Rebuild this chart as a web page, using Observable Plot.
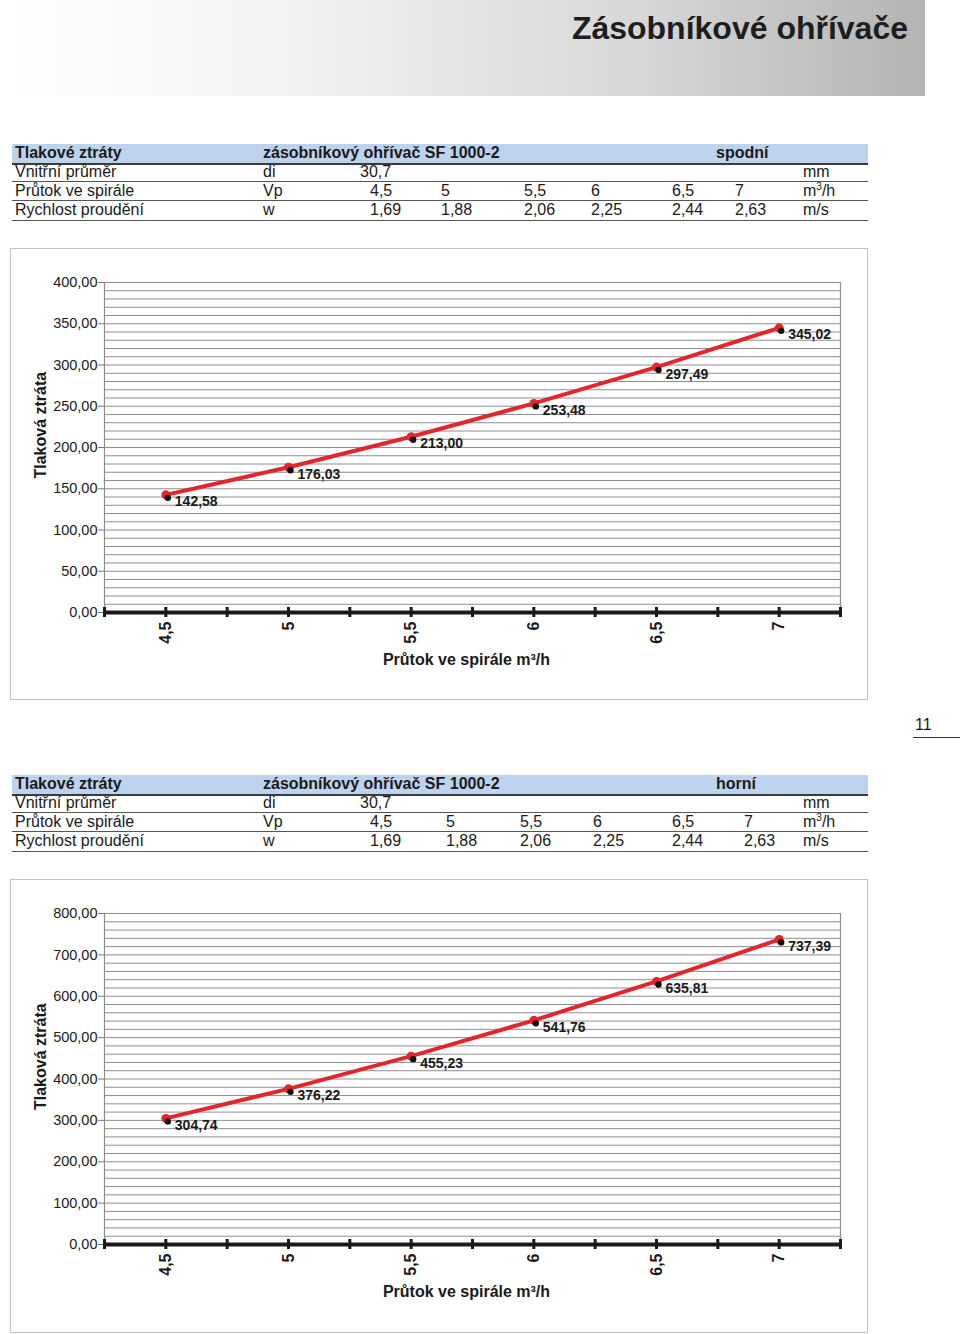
<!DOCTYPE html>
<html><head><meta charset="utf-8">
<script src="https://cdn.jsdelivr.net/npm/d3@7"></script>
<script src="https://cdn.jsdelivr.net/npm/@observablehq/plot@0.6"></script>
<style>
body{margin:0;width:960px;height:1334px;position:relative;background:#fff;font-family:"Liberation Sans",Arial,Helvetica,sans-serif;color:#1a1a1a;overflow:hidden}
.hdr{position:absolute;left:0;top:0;width:925px;height:96px;background:linear-gradient(to right,#ffffff 0%,#f3f3f3 30%,#d6d6d6 70%,#b3b3b3 100%)}
.title{position:absolute;right:52px;top:12px;font-size:32px;line-height:32px;font-weight:bold;color:#1e1e1e;white-space:nowrap}
.t{position:absolute;font-size:16px;line-height:16px;white-space:nowrap;color:#1a1a1a}
.b{font-weight:bold}
.hbg{position:absolute;left:12px;width:856px;height:19px;background:#bdd2ec}
.ln{position:absolute;left:12px;width:856px;background:#3a3a3a}
.box{position:absolute;left:10px;width:856px;border:1px solid #c2c2c2;pointer-events:none}
.plot{position:absolute;left:10px}
sup{font-size:10px;line-height:0;vertical-align:6px}
</style>
</head><body>
<div class="hdr"></div>
<div class="title">Zásobníkové ohřívače</div>
<div id="root"></div>
<script>
// ---- table data ----
const rowLabels = ["Tlakové ztráty", "Vnitřní průměr", "Průtok ve spirále", "Rychlost proudění"];
const productName = "zásobníkový ohřívač SF 1000-2";
const coilPositions = ["spodní", "horní"];
const symbols = ["di", "Vp", "w"];
const innerDiameter = "30,7";
const flowLabels = ["4,5", "5", "5,5", "6", "6,5", "7"];
const velocityLabels = ["1,69", "1,88", "2,06", "2,25", "2,44", "2,63"];
const units = ["mm", "m<sup>3</sup>/h", "m/s"];

// ---- chart data ----
const flow = [4.5, 5, 5.5, 6, 6.5, 7];
const lossLower = [142.58, 176.03, 213.00, 253.48, 297.49, 345.02];   // spodní
const lossUpper = [304.74, 376.22, 455.23, 541.76, 635.81, 737.39];   // horní
const yTicksLower = [0, 50, 100, 150, 200, 250, 300, 350, 400];
const yTicksUpper = [0, 100, 200, 300, 400, 500, 600, 700, 800];
const xAxisTicks = [4.25, 4.5, 4.75, 5, 5.25, 5.5, 5.75, 6, 6.25, 6.5, 6.75, 7, 7.25];
const xLabel = "Průtok ve spirále m³/h";
const yLabel = "Tlaková ztráta";

const root = document.getElementById("root");
function add(html){ root.insertAdjacentHTML("beforeend", html); }

function table(top, cols, pos){
  // top = baseline of header row
  add(`<div class="hbg" style="top:${top-14}px"></div>`);
  add(`<div class="ln" style="top:${top+5}px;height:2px"></div>`);
  [23,42,62].forEach(d => add(`<div class="ln" style="top:${top+d}px;height:1.3px;background:#555"></div>`));
  const tx = (x, base, s, cls="") => add(`<div class="t ${cls}" style="left:${x}px;top:${base-13.5}px">${s}</div>`);
  tx(15, top, rowLabels[0], "b");
  tx(263, top, productName, "b");
  tx(716, top, pos, "b");
  tx(15, top+19, rowLabels[1]); tx(263, top+19, symbols[0]); tx(360, top+19, innerDiameter); tx(803, top+19, units[0]);
  tx(15, top+38, rowLabels[2]); tx(263, top+38, symbols[1]);
  flowLabels.forEach((s,i)=>tx(cols[i], top+38, s)); tx(803, top+38, units[1]);
  tx(15, top+57, rowLabels[3]); tx(263, top+57, symbols[2]);
  velocityLabels.forEach((s,i)=>tx(cols[i], top+57, s)); tx(803, top+57, units[2]);
}

const fmt = d => d.toFixed(2).replace(".", ",");
const red = "#e2262b";

function chart(top, h, mb, values, yMax, yTicks, gridStep){
  const data = flow.map((x,i)=>({x, y: values[i]}));
  const grid = d3.range(0, yMax + gridStep/2, gridStep);
  const innerH = h - 34 - mb;
  const p = Plot.plot({
    width: 858, height: h,
    marginLeft: 94, marginRight: 28, marginTop: 34, marginBottom: mb,
    style: {fontFamily: '"Liberation Sans", Arial, Helvetica, sans-serif', background: "white", color: "#1a1a1a"},
    x: {domain: [4.25, 7.25]},
    y: {domain: [0, yMax]},
    marks: [
      Plot.ruleY(grid, {stroke: "#8e8e8e", strokeWidth: 1}),
      Plot.ruleX([4.25, 7.25], {stroke: "#8e8e8e", strokeWidth: 1.2}),
      Plot.axisY(yTicks, {tickFormat: fmt, tickSize: 6, tickPadding: 1, stroke: "#777", fontSize: 14.5, fill: "#1a1a1a", label: null}),
      Plot.ruleY([0], {stroke: "#1a1a1a", strokeWidth: 4}),
      Plot.ruleX(xAxisTicks, {stroke: "#1a1a1a", strokeWidth: 3, insetTop: innerH - 5, insetBottom: -5}),
      Plot.axisX(flow, {tickSize: 0, tickPadding: 9, tickRotate: -90, tickFormat: d => String(d).replace(".", ","), fontSize: 16, fontWeight: "bold", fill: "#1a1a1a", label: null}),
      Plot.text([xLabel], {frameAnchor: "bottom", dy: 52, dx: -6, fontSize: 16, fontWeight: "bold", fill: "#1a1a1a"}),
      Plot.text([yLabel], {frameAnchor: "left", rotate: -90, dx: -64, dy: 31, fontSize: 16, fontWeight: "bold", fill: "#1a1a1a"}),
      Plot.line(data, {x: "x", y: "y", stroke: red, strokeWidth: 4}),
      Plot.dot(data, {x: "x", y: "y", r: 4.5, fill: red, stroke: "none"}),
      Plot.dot(data, {x: "x", y: "y", r: 3.2, fill: "#111", stroke: "none", dx: 2, dy: 3}),
      Plot.text(data, {x: "x", y: "y", text: d => fmt(d.y), dx: 9, dy: 7, textAnchor: "start", fontSize: 14, fontWeight: "bold", fill: "#1a1a1a"})
    ]
  });
  p.classList.add("plot");
  p.style.top = top + "px";
  p.style.position = "absolute";
  p.style.left = "10px";
  root.appendChild(p);
  add(`<div class="box" style="top:${top}px;height:${h-2}px"></div>`);
}

table(158, [370, 441, 524, 591, 672, 735], coilPositions[0]);
chart(248, 452, 88, lossLower, 400, yTicksLower, 10);
table(789, [370, 446, 520, 593, 672, 744], coilPositions[1]);
chart(879, 454, 89, lossUpper, 800, yTicksUpper, 20);

add(`<div class="t" style="left:915px;top:${730-13.5}px">11</div>`);
add(`<div style="position:absolute;left:913px;top:737px;width:47px;height:1px;background:#333"></div>`);
</script>
</body></html>
